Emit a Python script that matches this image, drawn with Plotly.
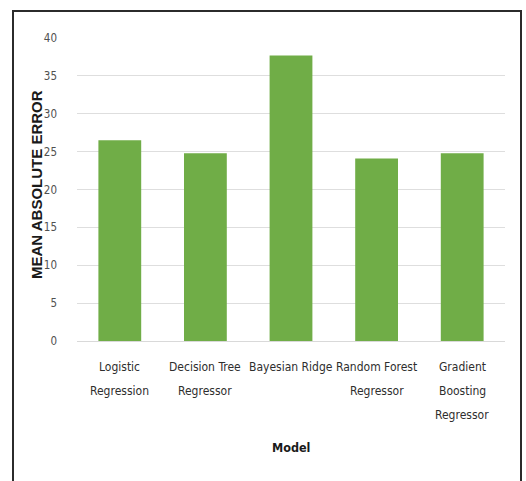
import plotly.graph_objects as go

# Mean absolute error by model
models = [
    "Logistic<br>Regression",
    "Decision Tree<br>Regressor",
    "Bayesian Ridge",
    "Random Forest<br>Regressor",
    "Gradient<br>Boosting<br>Regressor",
]
mae = [26.5, 24.8, 37.7, 24.1, 24.8]
y_ticks = [0, 5, 10, 15, 20, 25, 30, 35, 40]

W, H = 526, 481
ML, MR, MT, MB = 77, 21, 38, 140
pw = W - ML - MR
ph = H - MT - MB


def px_to_paper_x(px):
    return (px - ML) / pw


def px_to_paper_y(py):
    return (H - MB - py) / ph


font_main = "DejaVu Sans Condensed, Roboto, Liberation Sans, Arial, sans-serif"

fig = go.Figure(
    go.Bar(
        x=models,
        y=mae,
        marker=dict(color="#70ad47", line=dict(width=0)),
        hoverinfo="x+y",
    )
)

# Category labels: one annotation per text line for wider line spacing
annotations = []
line_y = [367, 391, 415]
for cat in models:
    for i, line in enumerate(cat.split("<br>")):
        annotations.append(
            dict(
                x=cat,
                xref="x",
                y=px_to_paper_y(line_y[i]),
                yref="paper",
                text=line,
                showarrow=False,
                xanchor="center",
                yanchor="middle",
                font=dict(family=font_main, size=12, color="#2e2e2e"),
            )
        )

annotations.append(
    dict(
        x=0.5,
        xref="paper",
        y=px_to_paper_y(447),
        yref="paper",
        text="<b>Model</b>",
        showarrow=False,
        xanchor="center",
        yanchor="middle",
        font=dict(family=font_main, size=12.5, color="#1a1a1a"),
    )
)

annotations.append(
    dict(
        x=px_to_paper_x(36),
        xref="paper",
        y=px_to_paper_y(185),
        yref="paper",
        text="<b>MEAN ABSOLUTE ERROR</b>",
        textangle=-90,
        showarrow=False,
        xanchor="center",
        yanchor="middle",
        font=dict(family="Liberation Sans, Arial, sans-serif", size=15, color="#1a1a1a"),
    )
)

fig.update_layout(
    width=W,
    height=H,
    margin=dict(l=ML, r=MR, t=MT, b=MB),
    paper_bgcolor="white",
    plot_bgcolor="white",
    bargap=0.5,
    showlegend=False,
    font=dict(family=font_main, size=13, color="#404040"),
    xaxis=dict(
        showgrid=False,
        showline=True,
        linecolor="#d9d9d9",
        linewidth=1,
        ticks="",
        showticklabels=False,
    ),
    yaxis=dict(
        range=[0, 40],
        tickvals=y_ticks,
        showgrid=True,
        gridcolor="#dedede",
        gridwidth=1,
        zeroline=False,
        showline=False,
        ticks="",
        ticklabelstandoff=19,
        tickfont=dict(family=font_main, size=11.5, color="#505050"),
    ),
    annotations=annotations,
    shapes=[
        dict(
            type="rect",
            xref="paper",
            yref="paper",
            x0=px_to_paper_x(13),
            x1=px_to_paper_x(521),
            y0=px_to_paper_y(490),
            y1=px_to_paper_y(11),
            line=dict(color="#2b2b2b", width=2),
            fillcolor="rgba(0,0,0,0)",
            layer="below",
        )
    ],
)

fig.write_html("out.html")
